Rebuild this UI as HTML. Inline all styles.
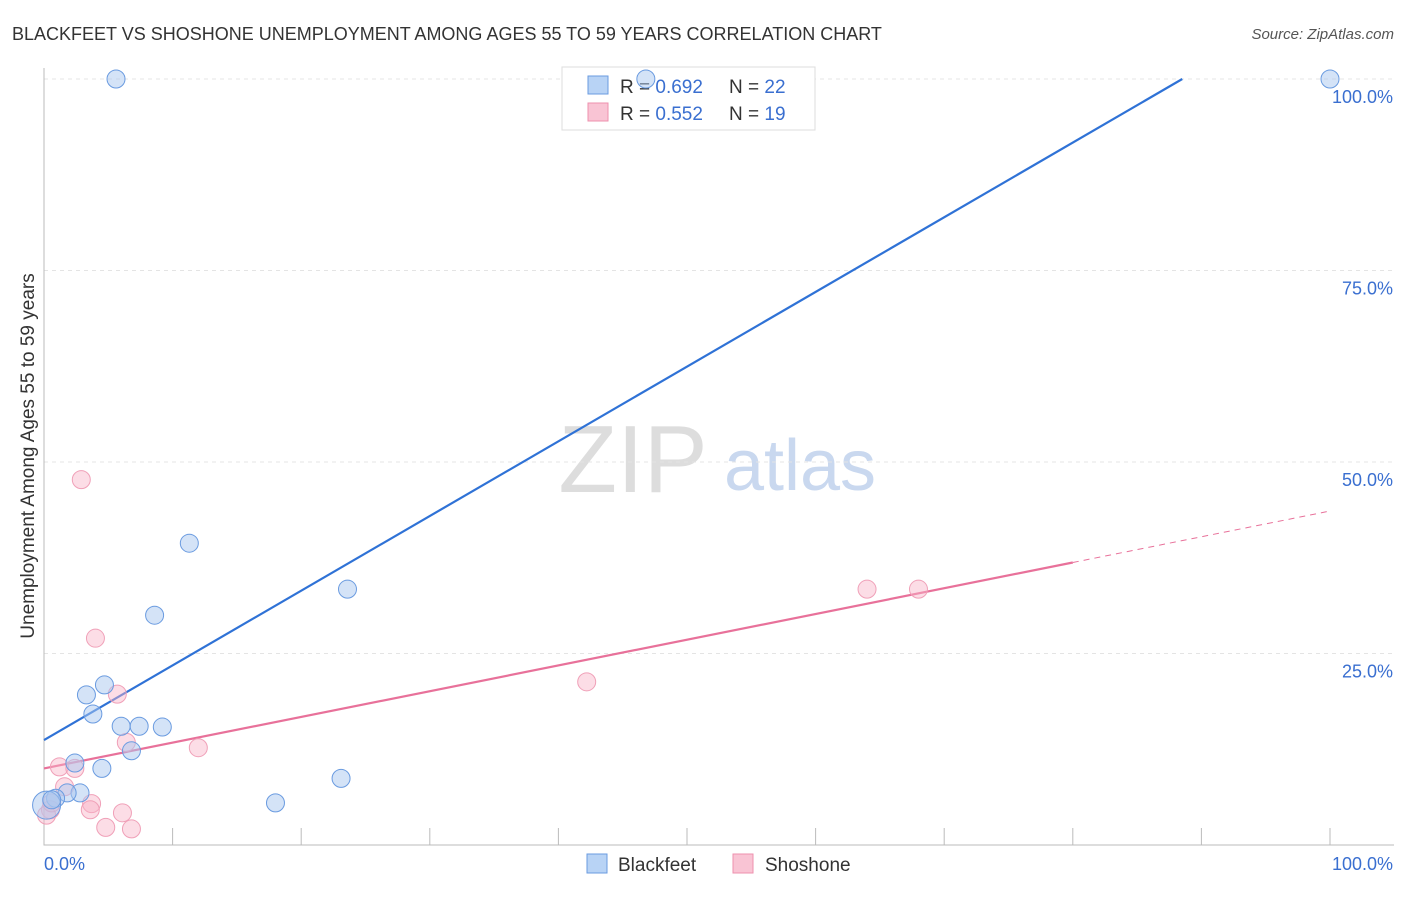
<!DOCTYPE html>
<html><head><meta charset="utf-8"><style>
body{margin:0;background:#fff;font-family:"Liberation Sans",sans-serif}
svg text{font-family:"Liberation Sans",sans-serif}
</style></head><body>
<svg id="c" width="1406" height="892" xmlns="http://www.w3.org/2000/svg">
<text x="12" y="40" font-size="18" fill="#333">BLACKFEET VS SHOSHONE UNEMPLOYMENT AMONG AGES 55 TO 59 YEARS CORRELATION CHART</text>
<text x="1394" y="39" font-size="15" fill="#555" text-anchor="end" font-style="italic">Source: ZipAtlas.com</text>
<text x="633" y="492" font-size="96" fill="#ddd" font-family="Liberation Serif" text-anchor="middle">ZIP</text>
<text x="800" y="490" font-size="72" fill="#c9d8ef" text-anchor="middle">atlas</text>
<text transform="translate(34,456) rotate(-90)" font-size="19" fill="#333" text-anchor="middle">Unemployment Among Ages 55 to 59 years</text>
<g id="grid"></g><g id="axes"></g><g id="lines"></g>
<g>
<rect x="562" y="67" width="253" height="63" fill="#fff" stroke="#ddd"/>
<rect x="588" y="76" width="20" height="18" fill="#b8d3f5" stroke="#6a9be0"/>
<rect x="588" y="103" width="20" height="18" fill="#f9c4d4" stroke="#ee90ae"/>
<text x="620" y="93" font-size="19" fill="#333">R = <tspan fill="#3a6fd0">0.692</tspan></text>
<text x="729" y="93" font-size="19" fill="#333">N = <tspan fill="#3a6fd0">22</tspan></text>
<text x="620" y="120" font-size="19" fill="#333">R = <tspan fill="#3a6fd0">0.552</tspan></text>
<text x="729" y="120" font-size="19" fill="#333">N = <tspan fill="#3a6fd0"> 19</tspan></text>
</g>
<g id="pts"></g>
<g>
<rect x="587" y="854" width="20" height="19" fill="#b8d3f5" stroke="#6a9be0"/>
<text x="618" y="871" font-size="19" fill="#333">Blackfeet</text>
<rect x="733" y="854" width="20" height="19" fill="#f9c4d4" stroke="#ee90ae"/>
<text x="765" y="871" font-size="19" fill="#333">Shoshone</text>
</g>
</svg>
<script>
const yTicks=[25,50,75,100];
const yTickLabels=["25.0%","50.0%","75.0%","100.0%"];
const blackX=[5.6,46.8,100,11.3,8.6,23.6,3.3,4.7,3.8,6,7.4,9.2,6.8,2.4,4.5,23.1,18,2.8,1.8,0.9,0.2,0.6];
const blackY=[100,100,100,39.4,30,33.4,19.6,20.9,17.1,15.5,15.5,15.4,12.3,10.7,10,8.7,5.5,6.8,6.8,6.1,5.2,5.9];
const shoX=[2.9,4.0,5.7,42.2,64,68,6.4,12,1.2,2.4,1.6,3.7,3.6,6.1,4.8,6.8,0.5,0.2,0.6];
const shoY=[47.7,27,19.7,21.3,33.4,33.4,13.4,12.7,10.2,10,7.6,5.4,4.6,4.2,2.3,2.1,4.6,3.9,5.5];
const blackFit=[13.7,0.975];
const shoFit=[10,0.336];
const NS="http://www.w3.org/2000/svg";
const X=v=>44+v*12.86, Y=v=>845-v*7.66;
function mk(p,t,a){const e=document.createElementNS(NS,t);for(const k in a)e.setAttribute(k,a[k]);document.getElementById(p).appendChild(e);return e;}
yTicks.forEach((t,i)=>{
 let l=mk('grid','line',{x1:44,x2:1394,y1:Y(t),y2:Y(t),stroke:'#e4e4e4','stroke-dasharray':'4,4'});
 
 
 let tx=mk('grid','text',{x:1393,y:Y(t)+24,'font-size':18,fill:'#3a6fd0','text-anchor':'end'});
 tx.textContent=yTickLabels[i];
 
 
});
let ax=mk('axes','path',{d:'M44 68V845H1394',stroke:'#bbb',fill:'none'});


for(let k=1;k<=10;k++){let t=mk('axes','line',{x1:X(k*10),x2:X(k*10),y1:828,y2:845,stroke:'#bbb'});
 
 }
[["0.0%",44,'start'],["100.0%",1393,'end']].forEach(d=>{let t=mk('axes','text',{x:d[1],y:870,'font-size':18,fill:'#3a6fd0','text-anchor':d[2]});t.textContent=d[0];
 
 });
let bx2=(100-blackFit[0])/blackFit[1];
let bl=mk('lines','line',{x1:X(0),y1:Y(blackFit[0]),x2:X(bx2),y2:Y(100),stroke:'#2f72d6','stroke-width':2.2});


let sl=mk('lines','line',{x1:X(0),y1:Y(shoFit[0]),x2:X(80),y2:Y(shoFit[0]+shoFit[1]*80),stroke:'#e8719a','stroke-width':2.2});


let sd=mk('lines','line',{x1:X(80),y1:Y(shoFit[0]+shoFit[1]*80),x2:X(100),y2:Y(shoFit[0]+shoFit[1]*100),stroke:'#e8719a','stroke-width':1,'stroke-dasharray':'6,5'});


shoX.forEach((v,i)=>{let c=mk('pts','circle',{cx:X(v),cy:Y(shoY[i]),r:9,fill:'rgba(248,180,200,0.45)',stroke:'#f0a0b8'});
 
 });
blackX.forEach((v,i)=>{let c=mk('pts','circle',{cx:X(v),cy:Y(blackY[i]),r:i==20?14:9,fill:'rgba(170,200,240,0.5)',stroke:'#6a9be0'});
 
 });
</script>
</body></html>
